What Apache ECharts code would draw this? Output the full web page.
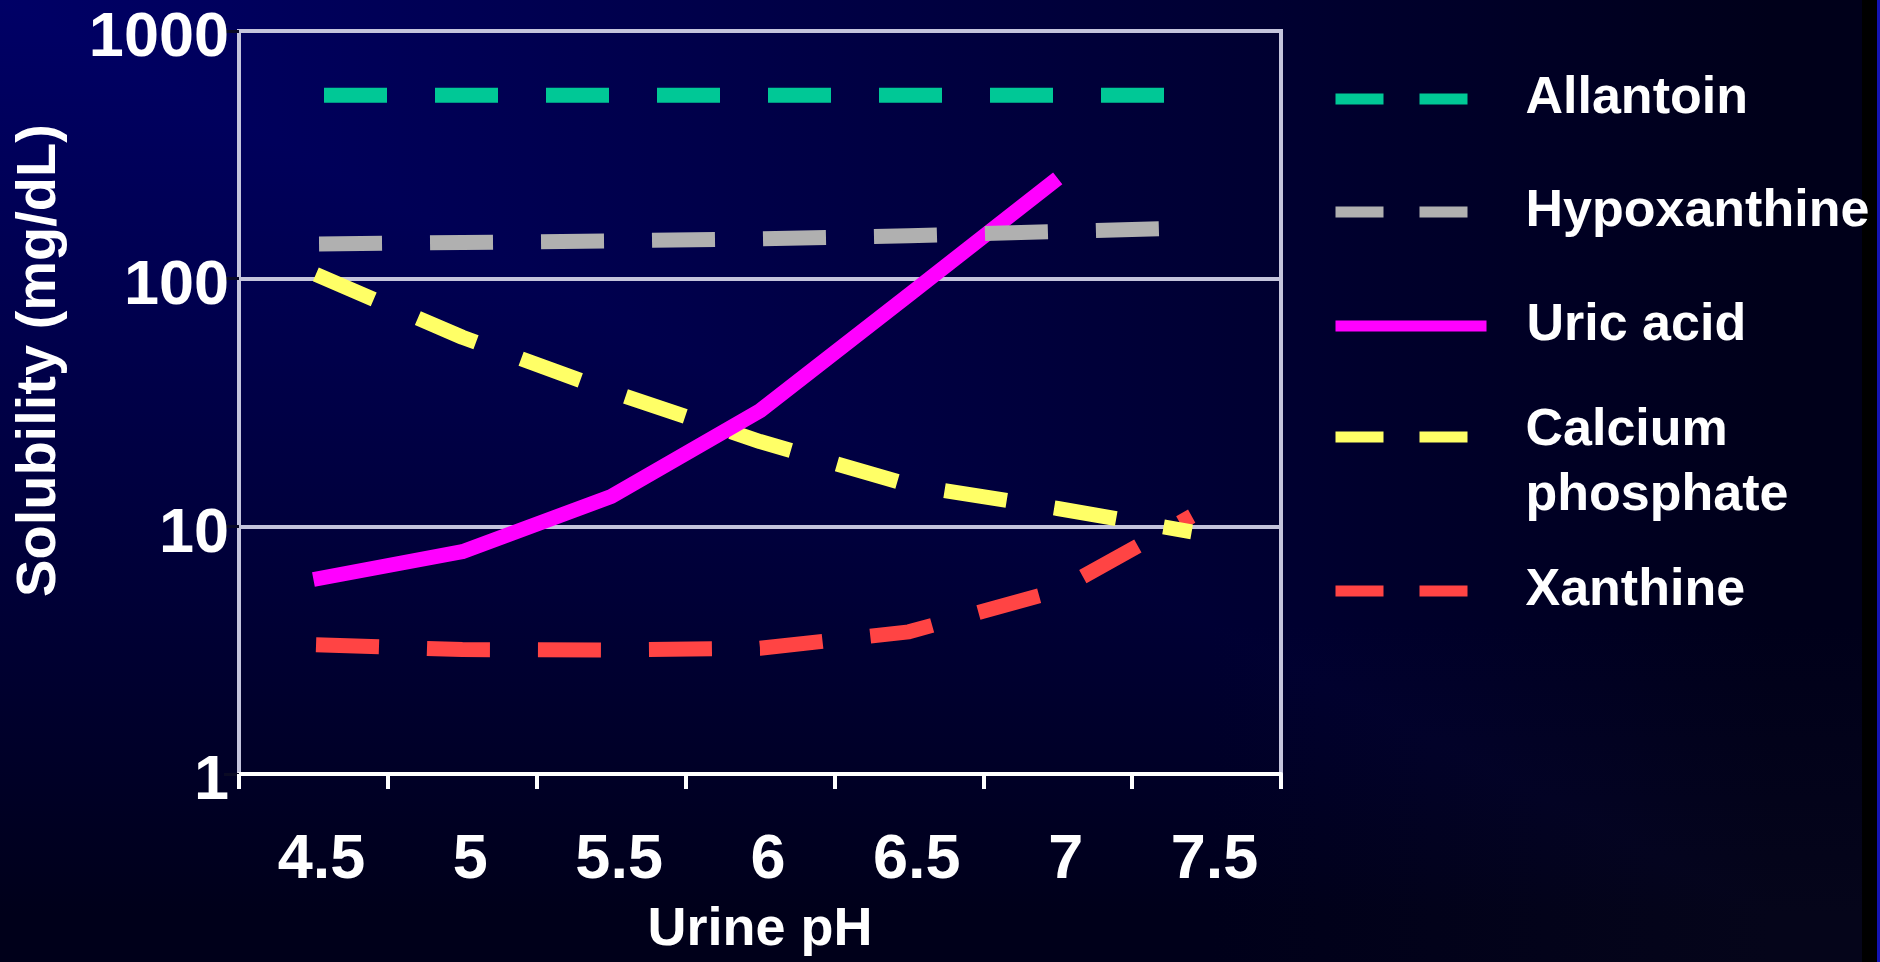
<!DOCTYPE html>
<html>
<head>
<meta charset="utf-8">
<script src="https://cdn.jsdelivr.net/npm/echarts@6/dist/echarts.min.js"></script>
<style>
  html, body { margin:0; padding:0; background:#000; width:1880px; height:962px; overflow:hidden; }
  #bg { position:absolute; left:0; top:0; width:1862px; height:962px;
        background-image:
          linear-gradient(to right, #000066 0%, #00004c 35%, #000034 65%, #05051a 95%, #05051a 100%),
          linear-gradient(to bottom, #000066 0%, #00004c 35%, #000034 65%, #05051a 95%, #05051a 100%);
        background-blend-mode: darken; }
  #edge { position:absolute; left:1877px; top:0; width:3px; height:962px; background:#1414b4; }
  #chart { position:absolute; left:0; top:0; width:1880px; height:962px; }
</style>
</head>
<body>
<div id="bg"></div>
<div id="edge"></div>
<div id="chart"></div>
<script>
// ---- data ----
const phLabels = ['4.5', '5', '5.5', '6', '6.5', '7', '7.5'];
const yTickLabels = ['1', '10', '100', '1000'];
const phAll = [4.5, 5, 5.5, 6, 6.5, 7, 7.5];
const phUric = [4.5, 5, 5.5, 6, 6.5, 7];
const phShort = [4.5, 5, 5.5, 6, 6.5, 7, 7.45];
const allantoin = [550, 550, 550, 550, 550, 550, 550];
const hypoxanthine = [138, 140, 142, 145, 149, 155, 161];
const uricAcid = [6.1, 7.9, 13.2, 29.3, 86, 254];
const calciumPhosphate = [105, 58, 35, 22, 14.7, 11.8, 9.5];
const xanthine = [3.33, 3.18, 3.17, 3.22, 3.75, 5.5, 11];

const FONT = "'Liberation Sans', Arial, sans-serif";
const pairs = (xs, ys) => ys.map((v, i) => [xs[i], v]);

function lineSeries(name, xs, ys, color, dashed, z, offset) {
  return {
    name: name, type: 'line', xAxisIndex: 1, yAxisIndex: 0,
    data: pairs(xs, ys), symbol: 'none', showSymbol: false, smooth: false, z: z,
    itemStyle: { color: color },
    lineStyle: { color: color, width: 15, type: dashed ? [63, 48] : 'solid',
                 dashOffset: offset || 0, cap: 'butt', join: 'round' },
    emphasis: { disabled: true }, silent: true
  };
}

const baseText = { color: '#ffffff', fontSize: 52, fontWeight: 'bold', fontFamily: FONT };

function legendFor(name, top, dashed) {
  return {
    show: true, data: [name], left: 1330, top: top, padding: 0,
    itemWidth: dashed ? 132 : 151, itemHeight: 14, selectedMode: false,
    itemStyle: { opacity: 0, color: 'rgba(0,0,0,0)', borderWidth: 0 },
    lineStyle: { width: 11, type: dashed ? [48, 36] : 'solid', dashOffset: 0, cap: 'butt' },
    textStyle: Object.assign({}, baseText, { lineHeight: 60, padding: [0, 0, 0, dashed ? 53 : 35] })
  };
}

const calciumLegend = legendFor('Calcium phosphate', 372, true);
calciumLegend.formatter = function () { return '{c|Calcium}\n{p|phosphate}'; };
calciumLegend.textStyle.rich = {
  c: Object.assign({}, baseText, { lineHeight: 118 }),
  p: Object.assign({}, baseText, { lineHeight: 12 })
};

const chart = echarts.init(document.getElementById('chart'), null, { renderer: 'canvas' });
chart.setOption({
  backgroundColor: 'transparent',
  animation: false,
  grid: { left: 239, top: 31, width: 1042, height: 746, show: true,
          borderColor: '#c4c4dc', borderWidth: 4, backgroundColor: 'transparent' },
  legend: [
    legendFor('Allantoin', 69, true),
    legendFor('Hypoxanthine', 182, true),
    legendFor('Uric acid', 296, false),
    calciumLegend,
    legendFor('Xanthine', 561, true)
  ],
  xAxis: [
    {
      type: 'category', data: phLabels, position: 'bottom', boundaryGap: true,
      axisLine: { show: true, lineStyle: { color: '#ffffff', width: 4 } },
      axisTick: { show: true, length: 15, lineStyle: { color: '#ffffff', width: 4 } },
      axisLabel: { color: '#ffffff', fontSize: 63, fontWeight: 'bold', fontFamily: FONT,
                   margin: 55, padding: [0, 0, 0, 16] },
      splitLine: { show: false },
      name: 'Urine pH', nameLocation: 'middle', nameGap: 129,
      nameTextStyle: { color: '#ffffff', fontSize: 54, fontWeight: 'bold', fontFamily: FONT }
    },
    { type: 'value', min: 4.25, max: 7.75, position: 'bottom', show: false,
      axisLabel: { show: false }, axisTick: { show: false }, axisLine: { show: false }, splitLine: { show: false } }
  ],
  yAxis: {
    type: 'log', logBase: 10, min: 1, max: 1000,
    axisLine: { show: true, lineStyle: { color: '#c4c4dc', width: 4 } },
    axisTick: { show: true, length: 15, lineStyle: { color: '#0a0a24', width: 3 } },
    minorTick: { show: false },
    axisLabel: { color: '#ffffff', fontSize: 63, fontWeight: 'bold', fontFamily: FONT,
                 margin: 10, verticalAlign: 'top', lineHeight: 16,
                 formatter: function (v) { return yTickLabels[Math.round(Math.log10(v))]; } },
    splitLine: { show: true, lineStyle: { color: '#c4c4dc', width: 4 } },
    name: 'Solubility (mg/dL)', nameLocation: 'middle', nameGap: 171,
    nameTextStyle: { color: '#ffffff', fontSize: 56, fontWeight: 'bold', fontFamily: FONT,
                     padding: [0, 0, 0, 84] }
  },
  series: [
    lineSeries('Xanthine', phShort, xanthine, '#ff4444', true, 2, 108.4),
    lineSeries('Calcium phosphate', phShort, calciumPhosphate, '#ffff66', true, 3, 108.4),
    lineSeries('Uric acid', phUric, uricAcid, '#ff00ff', false, 4, 0),
    lineSeries('Hypoxanthine', phAll, hypoxanthine, '#b0b0b0', true, 5, 105.4),
    lineSeries('Allantoin', phAll, allantoin, '#00c896', true, 6, 100.4)
  ]
});
</script>
</body>
</html>
